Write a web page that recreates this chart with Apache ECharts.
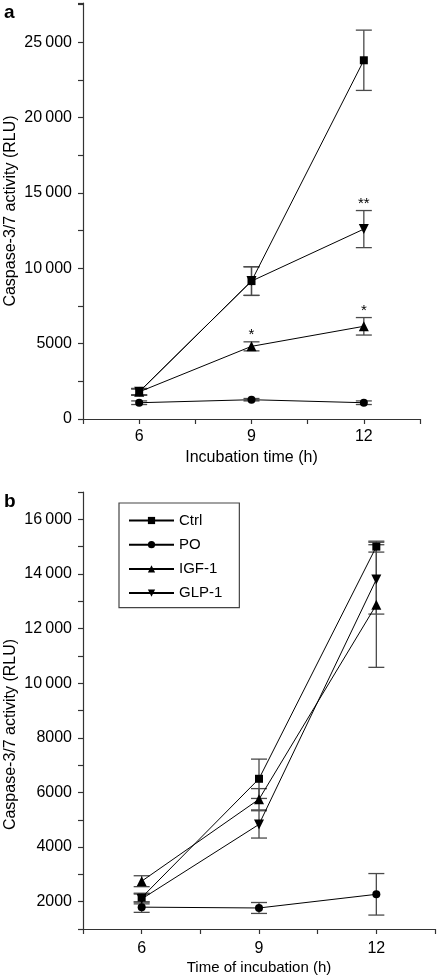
<!DOCTYPE html>
<html><head><meta charset="utf-8">
<script src="https://cdn.jsdelivr.net/npm/echarts@6/dist/echarts.min.js"></script>
<style>html,body{margin:0;padding:0;background:#fff}#c{width:440px;height:976px}</style>
</head><body><div id="c"></div>
<script>
const times = [6, 9, 12];
const xTickLabels = [6, 9, 12];
const seriesNames = ['Ctrl', 'PO', 'IGF-1', 'GLP-1'];
// Panel a
const aCtrl = [1800, 9150, 23800];
const aCtrlErr = [200, 950, 2000];
const aPO = [1080, 1280, 1080];
const aPOErr = [120, 80, 120];
const aIGF = [1800, 4820, 6150];
const aIGFErr = [230, 300, 580];
const aGLP = [1800, 9150, 12600];
const aGLPErr = [200, 950, 1230];
const aIGFSig = ['', '*', '*'];
const aGLPSig = ['', '', '**'];
// Panel b
const bCtrl = [2150, 6500, 15000];
const bCtrlErr = [160, 720, 200];
const bPO = [1800, 1770, 2270];
const bPOErr = [190, 200, 760];
const bIGF = [2750, 5750, 12870];
const bIGFErr = [200, 390, 2290];
const bGLP = [2100, 4830, 13800];
const bGLPErr = [180, 500, 1270];

const FONT = '"Liberation Sans", Arial, sans-serif';
const AX = '#333';

function fmt(v) {
  if (v >= 10000) {
    const s = String(v);
    return s.slice(0, s.length - 3) + '\u2009' + s.slice(-3);
  }
  return String(v);
}
function pts(vals) { return times.map((t, i) => [t, vals[i]]); }
function errPts(vals, errs) { return times.map((t, i) => [t, vals[i] - errs[i], vals[i] + errs[i]]); }
function sigPts(vals, errs, sig) {
  const out = [];
  times.forEach((t, i) => { if (sig[i]) out.push([t, vals[i] + errs[i], sig[i]]); });
  return out;
}
function errRender(params, api) {
  const x = api.value(0), lo = api.value(1), hi = api.value(2);
  const pHi = api.coord([x, hi]), pLo = api.coord([x, lo]);
  const w = 8;
  const st = { stroke: '#4a4a4a', lineWidth: 1.3 };
  return { type: 'group', children: [
    { type: 'line', shape: { x1: pHi[0], y1: pHi[1], x2: pLo[0], y2: pLo[1] }, style: st },
    { type: 'line', shape: { x1: pHi[0] - w, y1: pHi[1], x2: pHi[0] + w, y2: pHi[1] }, style: st },
    { type: 'line', shape: { x1: pLo[0] - w, y1: pLo[1], x2: pLo[0] + w, y2: pLo[1] }, style: st }
  ]};
}
function sigRender(params, api) {
  const p = api.coord([api.value(0), api.value(1)]);
  return { type: 'text', x: p[0], y: p[1] + 1, style: { text: api.value(2), textAlign: 'center', textVerticalAlign: 'bottom', font: '15px ' + FONT, fill: '#000' } };
}
const symbols = { 'Ctrl': ['rect', 8, 0], 'PO': ['circle', 8, 0], 'IGF-1': ['triangle', 10, 0], 'GLP-1': ['triangle', 10, 180] };
function lineSeries(name, vals, idx) {
  const s = symbols[name];
  return { type: 'line', name: name, xAxisIndex: idx, yAxisIndex: idx, data: pts(vals),
    symbol: s[0], symbolSize: s[1], symbolRotate: s[2], showAllSymbol: true,
    lineStyle: { color: '#000', width: 1 }, itemStyle: { color: '#000' }, z: 5, animation: false };
}
function errSeries(vals, errs, idx) {
  return { type: 'custom', xAxisIndex: idx, yAxisIndex: idx, data: errPts(vals, errs), renderItem: errRender,
    encode: { x: 0, y: [1, 2] }, z: 3, animation: false, silent: true };
}
function sigSeries(vals, errs, sig, idx) {
  return { type: 'custom', xAxisIndex: idx, yAxisIndex: idx, data: sigPts(vals, errs, sig), renderItem: sigRender,
    encode: { x: 0, y: 1 }, z: 6, animation: false, silent: true };
}
function xAxis(idx, name, nameSize, labelMargin) {
  return { type: 'value', gridIndex: idx, min: 4.5, max: 13.5, interval: 1.5,
    name: name, nameLocation: 'middle', nameGap: 31, nameMoveOverlap: false,
    nameTextStyle: { fontFamily: FONT, fontSize: nameSize, color: '#000' },
    axisLine: { lineStyle: { color: AX, width: 1.2 } },
    axisTick: { length: 5, lineStyle: { color: AX, width: 1.2 } },
    axisLabel: { margin: labelMargin, fontFamily: FONT, fontSize: 16, color: '#000',
      formatter: v => xTickLabels.indexOf(Math.round(v * 10) / 10) >= 0 ? String(v) : '' },
    splitLine: { show: false } };
}
function yAxis(idx, min, max, interval, labelStep, namePad) {
  return { type: 'value', gridIndex: idx, min: min, max: max, interval: interval,
    name: 'Caspase-3/7 activity (RLU)', nameLocation: 'middle', nameGap: 64, nameMoveOverlap: false,
    nameTextStyle: { fontFamily: FONT, fontSize: 16, color: '#000', padding: namePad },
    axisLine: { show: true, lineStyle: { color: AX, width: 1.2 } },
    axisTick: { show: true, length: 5, lineStyle: { color: AX, width: 1.2 } },
    axisLabel: { margin: 11, fontFamily: FONT, fontSize: 16, color: '#000',
      formatter: v => (v % labelStep === 0 && v < max) ? fmt(v) : '' },
    splitLine: { show: false } };
}

const chart = echarts.init(document.getElementById('c'), null, { renderer: 'canvas' });
chart.setOption({
  backgroundColor: '#fff',
  animation: false,
  grid: [
    { left: 83, top: 3, width: 337, height: 416, outerBoundsMode: 'none', containLabel: false },
    { left: 83, top: 492, width: 352, height: 437, outerBoundsMode: 'none', containLabel: false }
  ],
  xAxis: [xAxis(0, 'Incubation time (h)', 16, 10), xAxis(1, 'Time of incubation (h)', 15, 12)],
  yAxis: [yAxis(0, 0, 27600, 2500, 5000, [0, 0, 0, 0]), yAxis(1, 1000, 17000, 1000, 2000, [0, 48, 0, 0])],
  legend: {
    data: seriesNames, orient: 'vertical', left: 119, top: 503,
    itemWidth: 45, itemHeight: 9, itemGap: 9.2,
    padding: [10, 17, 7, 9],
    borderColor: '#444', borderWidth: 1.2,
    textStyle: { fontFamily: FONT, fontSize: 15, color: '#000' },
    selectedMode: false
  },
  graphic: [
    { type: 'text', left: 4, top: 3, style: { text: 'a', font: 'bold 19px ' + FONT, fill: '#000' } },
    { type: 'text', left: 4, top: 492, style: { text: 'b', font: 'bold 19px ' + FONT, fill: '#000' } }
  ],
  series: [
    errSeries(aCtrl, aCtrlErr, 0), errSeries(aPO, aPOErr, 0), errSeries(aIGF, aIGFErr, 0), errSeries(aGLP, aGLPErr, 0),
    lineSeries('Ctrl', aCtrl, 0), lineSeries('PO', aPO, 0), lineSeries('IGF-1', aIGF, 0), lineSeries('GLP-1', aGLP, 0),
    sigSeries(aIGF, aIGFErr, aIGFSig, 0), sigSeries(aGLP, aGLPErr, aGLPSig, 0),
    errSeries(bCtrl, bCtrlErr, 1), errSeries(bPO, bPOErr, 1), errSeries(bIGF, bIGFErr, 1), errSeries(bGLP, bGLPErr, 1),
    lineSeries('Ctrl', bCtrl, 1), lineSeries('PO', bPO, 1), lineSeries('IGF-1', bIGF, 1), lineSeries('GLP-1', bGLP, 1)
  ]
});
</script>
</body></html>
